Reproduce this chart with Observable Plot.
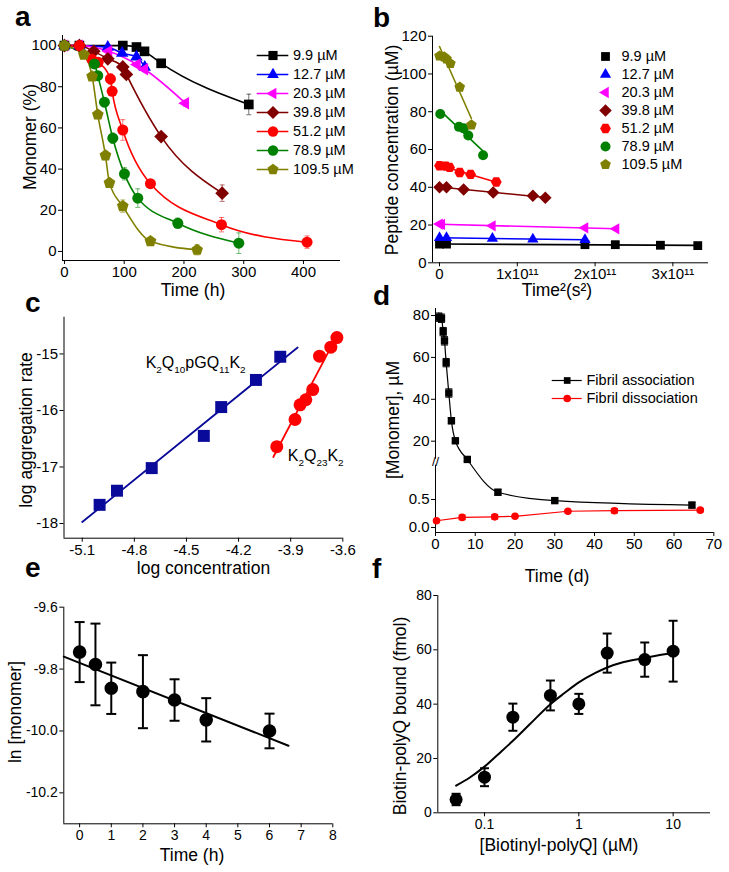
<!DOCTYPE html>
<html><head><meta charset="utf-8">
<script src="https://cdn.jsdelivr.net/npm/d3@7"></script>
<script src="https://cdn.jsdelivr.net/npm/@observablehq/plot@0.6"></script>
<style>
body{margin:0;background:#fff;}
#fig{position:relative;width:729px;height:872px;background:#fff;}
</style></head><body><div id="fig"></div>
<script>
// ================= DATA =================
const concLabels = ["9.9 µM","12.7 µM","20.3 µM","39.8 µM","51.2 µM","78.9 µM","109.5 µM"];
const concColors = ["#000000","#0000ff","#ff00ff","#800000","#ff0000","#008000","#808000"];

// panel a: time (h), monomer (%), error
const aTime99 = [0, 25, 97.6, 120.5, 133.9, 161.8, 308.5];
const aMono99 = [100, 100, 100, 99.3, 97.2, 91.4, 71.4];
const aErr99  = [0, 0, 1, 0.8, 0.8, 0.8, 5];
const aTime127 = [0, 25, 72.5, 96.5, 120.5, 134.4];
const aMono127 = [100, 100, 99.2, 96.3, 94.5, 89.5];
const aErr127  = [0, 0, 0.8, 1, 1, 1];
const aTime203 = [0, 25, 74, 121.6, 134, 202.5];
const aMono203 = [100, 100, 97.3, 90.8, 88.5, 72];
const aErr203  = [0, 0, 1, 1, 1, 1.5];
const aTime398 = [0, 25, 49, 72.5, 97.6, 103.6, 161.8, 263.9];
const aMono398 = [100, 100, 97.2, 93.6, 89.6, 86, 55.8, 28.3];
const aErr398  = [0, 0, 1, 1.5, 1, 1, 1, 4];
const aTime512 = [0, 25, 45.6, 56.4, 76.9, 79.8, 97.6, 143.9, 262.8, 406];
const aMono512 = [100, 100, 93.4, 91.9, 83.8, 77.8, 59, 32.9, 13, 4.5];
const aErr512  = [0, 0, 1.5, 1.5, 2.5, 2, 5, 0, 3.5, 3];
const aTime789 = [0, 50.2, 55.7, 66.9, 80.9, 100.4, 122.7, 189.7, 291.8];
const aMono789 = [100, 91.1, 85.4, 72.5, 55, 37.7, 25.9, 13.7, 4];
const aErr789  = [0, 2, 2, 2, 2.5, 3, 4.5, 2.5, 5];
const aTime1095 = [0, 32.4, 46.3, 55.8, 68.6, 75.3, 97.6, 143.9, 222];
const aMono1095 = [100, 95.6, 85, 66.5, 46.6, 33.3, 22, 5, 0.8];
const aErr1095  = [0, 1, 1.5, 2, 2, 2, 3, 1.5, 2.5];
const aTimeTicks = [0, 100, 200, 300, 400];
const aMonoTicks = [0, 20, 40, 60, 80, 100];

// panel b: time^2 (s^2), peptide concentration (µM)
const bT99 = [0, 0.09e11, 1.87e11, 2.26e11, 2.84e11, 3.32e11];
const bC99 = [9.9, 9.9, 9.6, 9.6, 9.3, 9.1];
const bT127 = [0, 0.09e11, 0.68e11, 1.2e11, 1.87e11];
const bC127 = [13.2, 13.2, 12.9, 12.5, 12.2];
const bT203 = [0, 0.03e11, 0.68e11, 1.87e11, 2.27e11];
const bC203 = [20.5, 20.3, 19.6, 18.5, 18];
const bT398 = [0, 0.09e11, 0.31e11, 0.69e11, 1.2e11, 1.36e11];
const bC398 = [40, 40, 38.8, 37.2, 35.5, 34.4];
const bT512 = [0, 0.08e11, 0.13e11, 0.26e11, 0.4e11, 0.73e11];
const bC512 = [51.4, 51.2, 50.5, 47.8, 46.8, 42.8];
const bT789 = [0.01e11, 0.25e11, 0.31e11, 0.37e11, 0.56e11];
const bC789 = [78.8, 72, 71.2, 67.4, 57];
const bT1095 = [0, 0.06e11, 0.09e11, 0.14e11, 0.26e11, 0.41e11];
const bC1095 = [109.5, 109, 108, 105.5, 93, 73];
const bTimeTicks = [0, 1e11, 2e11, 3e11];
const bConcTicks = [0, 20, 40, 60, 80, 100, 120];

// panel c: log concentration, log aggregation rate
const cLogConcA = [-5.0, -4.9, -4.7, -4.4, -4.3, -4.1, -3.96];
const cLogRateA = [-17.67, -17.42, -17.02, -16.45, -15.94, -15.46, -15.05];
const cLogConcB = [-3.98, -3.875, -3.846, -3.813, -3.773, -3.734, -3.669, -3.634];
const cLogRateB = [-16.64, -16.16, -15.9, -15.81, -15.63, -15.04, -14.88, -14.71];
const cFitRangeA = [-5.1, -3.86];
const cFitRangeB = [-4.0, -3.66];
const cNames = ["K_2Q_10pGQ_11K_2", "K_2Q_23K_2"];
const cNameX = [-4.735, -3.917];
const cNameY = [-15.15, -16.8];
const cConcTicks = [-5.1, -4.8, -4.5, -4.2, -3.9, -3.6];
const cRateTicks = [-18, -17, -16, -15];

// panel d: time (d), monomer (µM)
const dTimeAssoc = [0.84, 1.5, 1.93, 2.26, 2.68, 3.35, 4.0, 5.0, 8.0, 15.7, 30.0, 64.5];
const dMonoAssoc = [79.2, 78.7, 72.3, 67.9, 57.5, 43, 29.8, 20.2, 11.3, 0.63, 0.48, 0.40];
const dErrAssoc  = [2, 2, 2, 2, 2, 2, 1.5, 1, 0.8, 0.05, 0.03, 0.05];
const dTimeDiss = [0.25, 6.7, 14.9, 20, 33.3, 45, 66.6];
const dMonoDiss = [0.12, 0.18, 0.19, 0.2, 0.29, 0.3, 0.31];
const dErrDiss  = [0, 0.04, 0.04, 0.01, 0.01, 0.04, 0.03];
const dLegend = ["Fibril association", "Fibril dissociation"];
const dColors = ["#000000", "#ff0000"];
const dTimeTicks = [0, 10, 20, 30, 40, 50, 60, 70];
const dMonoTicks = [0, 0.5, 20, 40, 60, 80];
const dMonoTickText = ["0.0", "0.5", "20", "40", "60", "80"];

// panel e: time (h), ln[monomer]
const eTime = [0, 0.5, 1, 2, 3, 4, 6];
const eLnMono = [-9.745, -9.785, -9.862, -9.873, -9.9, -9.964, -10.0];
const eErr = [0.097, 0.132, 0.083, 0.118, 0.067, 0.07, 0.056];
const eFitRange = [-0.5, 6.6];
const eTimeTicks = [0, 1, 2, 3, 4, 5, 6, 7, 8];
const eLnTicks = [-10.2, -10.0, -9.8, -9.6];

// panel f: [Biotinyl-polyQ] (µM), bound (fmol)
const fConc = [0.05, 0.1, 0.2, 0.5, 1, 2, 5, 10];
const fBound = [4.9, 13.1, 35.2, 43.2, 40.1, 58.8, 56.4, 59.5];
const fErr = [2.1, 3.3, 5, 5.5, 3.7, 7.2, 6.3, 11.2];
const fCurveConc  = [0.05, 0.07, 0.1, 0.15, 0.2, 0.3, 0.5, 0.7, 1, 1.5, 2, 3, 5, 7, 10];
const fCurveBound = [10, 13, 17, 22.5, 26.5, 32.5, 40, 44, 48, 51.5, 53.5, 55.5, 57, 58, 58.8];
const fConcTicks = [0.1, 1, 10];
const fBoundTicks = [0, 20, 40, 60, 80];

// ================= HELPERS =================
const FONT = '"Liberation Sans", Arial, Helvetica, sans-serif';
const fig = document.getElementById("fig");

function poly(n, rot, k) {
  return {draw(c, s) {
    const r = Math.sqrt(s / Math.PI) * k;
    for (let i = 0; i < n; i++) {
      const a = rot + 2 * Math.PI * i / n;
      const x = r * Math.cos(a), y = r * Math.sin(a);
      if (i) c.lineTo(x, y); else c.moveTo(x, y);
    }
    c.closePath();
  }};
}
const sym = {
  square: {draw(c, s) { const r = Math.sqrt(s / Math.PI) * 0.88; c.rect(-r, -r, 2 * r, 2 * r); }},
  circle: {draw(c, s) { const r = Math.sqrt(s / Math.PI); c.moveTo(r, 0); c.arc(0, 0, r, 0, 2 * Math.PI); }},
  triUp: poly(3, -Math.PI / 2, 1.3),
  triLeft: poly(3, Math.PI, 1.3),
  diamond: poly(4, -Math.PI / 2, 1.25),
  pentagon: poly(5, -Math.PI / 2, 1.12),
  hexagon: poly(6, 0, 1.08),
  cap: {draw(c, s) { const r = Math.sqrt(s / Math.PI); c.moveTo(-r, 0); c.lineTo(r, 0); }}
};
const aSymbols = [sym.square, sym.triUp, sym.triLeft, sym.diamond, sym.circle, sym.circle, sym.pentagon];
const bSymbols = [sym.square, sym.triUp, sym.triLeft, sym.diamond, sym.hexagon, sym.circle, sym.pentagon];

function linFit(xs, ys) {
  const mx = d3.mean(xs), my = d3.mean(ys);
  let sxy = 0, sxx = 0;
  xs.forEach((x, i) => { sxy += (x - mx) * (ys[i] - my); sxx += (x - mx) ** 2; });
  const b = sxy / sxx;
  return x => my + b * (x - mx);
}

function panel({box, frame, fs, ...opts}) {
  const svg = Plot.plot({
    width: box.width, height: box.height,
    marginLeft: frame.x0 - box.left,
    marginRight: box.left + box.width - frame.x1,
    marginTop: frame.y0 - box.top,
    marginBottom: box.top + box.height - frame.y1,
    style: {fontFamily: FONT, fontSize: fs + "px", background: "transparent", overflow: "visible", color: "#000"},
    ...opts
  });
  svg.style.position = "absolute";
  svg.style.left = box.left + "px";
  svg.style.top = box.top + "px";
  svg.style.maxWidth = "none";
  fig.appendChild(svg);
  return svg;
}

function axisMarks({xTicks, yTicks, xFmt = String, yFmt = String, xMin, yMin, yLine = true}) {
  const m = [
    Plot.axisX({ticks: xTicks, tickFormat: xFmt, tickSize: 4, tickPadding: 2, label: null}),
    Plot.axisY({ticks: yTicks, tickFormat: yFmt, tickSize: 4, tickPadding: 2, label: null}),
    Plot.ruleY([yMin], {strokeWidth: 1})
  ];
  if (yLine) m.push(Plot.ruleX([xMin], {strokeWidth: 1}));
  return m;
}

function errMarks(data, {x, lo, hi, stroke = "#000", width = 1, cap = 4, opacity = 1}) {
  return [
    Plot.ruleX(data, {x, y1: lo, y2: hi, stroke, strokeWidth: width, strokeOpacity: opacity}),
    Plot.dot(data, {x, y: hi, symbol: sym.cap, r: cap, fill: "none", stroke, strokeWidth: width, strokeOpacity: opacity}),
    Plot.dot(data, {x, y: lo, symbol: sym.cap, r: cap, fill: "none", stroke, strokeWidth: width, strokeOpacity: opacity})
  ];
}

function legendPlot({left, top, width, height, labels, colors, symbols, y0, y1, lineX, markerX, textX, r, fs, lineWidth = 1.5}) {
  const marks = [];
  if (lineX) marks.push(Plot.ruleY(labels, {y: d => d, x1: lineX[0], x2: lineX[1], stroke: d => d, strokeWidth: lineWidth}));
  marks.push(Plot.dot(labels, {y: d => d, x: markerX, symbol: d => d, fill: d => d, r}));
  marks.push(Plot.text(labels, {y: d => d, x: textX, text: d => d, textAnchor: "start", fill: "#000"}));
  const svg = Plot.plot({
    width, height, margin: 0,
    x: {domain: [0, width], range: [0, width], axis: null},
    y: {type: "point", domain: labels, range: [y0, y1], padding: 0, axis: null},
    color: {domain: labels, range: colors},
    symbol: {domain: labels, range: symbols},
    style: {fontFamily: FONT, fontSize: fs + "px", background: "transparent", overflow: "visible", color: "#000"},
    marks
  });
  svg.style.position = "absolute";
  svg.style.left = left + "px";
  svg.style.top = top + "px";
  svg.style.maxWidth = "none";
  fig.appendChild(svg);
}

function subify(svg) {
  d3.select(svg).selectAll("text").each(function() {
    const raw = this.textContent;
    if (!raw.includes("_")) return;
    const el = d3.select(this);
    el.text(null);
    let shifted = false;
    raw.split(/(_\d+)/).filter(Boolean).forEach(p => {
      const sub = p.startsWith("_");
      const ts = el.append("tspan").text(sub ? p.slice(1) : p);
      if (sub !== shifted) { ts.attr("dy", sub ? "5px" : "-5px"); shifted = sub; }
      if (sub) ts.attr("font-size", "62%");
    });
  });
}

// ================= PANEL A =================
const aSeries = [
  [aTime99, aMono99, aErr99], [aTime127, aMono127, aErr127], [aTime203, aMono203, aErr203],
  [aTime398, aMono398, aErr398], [aTime512, aMono512, aErr512], [aTime789, aMono789, aErr789],
  [aTime1095, aMono1095, aErr1095]
];
const aData = aSeries.flatMap(([t, m, e], i) => t.map((tt, j) => ({s: concLabels[i], t: tt, y: m[j], e: e[j]})));
const aXDom = [-3.3, 462], aYDom = [-4.4, 104.9];
panel({
  box: {left: 0, top: 0, width: 365, height: 285}, frame: {x0: 62, x1: 340, y0: 35, y1: 260}, fs: 15,
  x: {domain: aXDom}, y: {domain: aYDom},
  color: {domain: concLabels, range: concColors}, symbol: {domain: concLabels, range: aSymbols},
  marks: [
    ...axisMarks({xTicks: aTimeTicks, yTicks: aMonoTicks, xMin: aXDom[0], yMin: aYDom[0]}),
    ...errMarks(aData.filter(d => d.e > 0), {x: "t", lo: d => d.y - d.e, hi: d => d.y + d.e, stroke: "s", width: 1, cap: 2.5, opacity: 0.55}),
    Plot.line(aData, {x: "t", y: "y", z: "s", stroke: "s", strokeWidth: 1.6, curve: "monotone-x"}),
    Plot.dot(aData, {x: "t", y: "y", symbol: "s", fill: "s", r: 5.5})
  ]
});
legendPlot({left: 250, top: 40, width: 115, height: 145, labels: concLabels, colors: concColors, symbols: aSymbols,
  y0: 15, y1: 129, lineX: [6.7, 38.3], markerX: 22.5, textX: 42.5, r: 5.2, fs: 14.5});

// ================= PANEL B =================
const bSeries = [[bT99, bC99], [bT127, bC127], [bT203, bC203], [bT398, bC398], [bT512, bC512], [bT789, bC789], [bT1095, bC1095]];
const bData = bSeries.flatMap(([t, c], i) => t.map((tt, j) => ({s: concLabels[i], x: tt, y: c[j]})));
const bXDom = [-0.09e11, 3.458e11], bYDom = [0, 120];
panel({
  box: {left: 365, top: 0, width: 364, height: 285}, frame: {x0: 432, x1: 708, y0: 35.7, y1: 262.3}, fs: 15,
  x: {domain: bXDom}, y: {domain: bYDom},
  color: {domain: concLabels, range: concColors}, symbol: {domain: concLabels, range: bSymbols},
  marks: [
    ...axisMarks({xTicks: bTimeTicks, yTicks: bConcTicks, xFmt: v => v === 0 ? "0" : `${v / 1e11}x10¹¹`, xMin: bXDom[0], yMin: bYDom[0]}),
    Plot.linearRegressionY(bData, {x: "x", y: "y", z: "s", stroke: "s", ci: 0, strokeWidth: 1.6}),
    Plot.dot(bData, {x: "x", y: "y", symbol: "s", fill: "s", r: 5})
  ]
});
legendPlot({left: 590, top: 40, width: 139, height: 140, labels: concLabels, colors: concColors, symbols: bSymbols,
  y0: 13.3, y1: 126.7, lineX: null, markerX: 15, textX: 31, r: 5, fs: 14.5});

// ================= PANEL C =================
const cDataA = cLogConcA.map((x, i) => ({x, y: cLogRateA[i]}));
const cDataB = cLogConcB.map((x, i) => ({x, y: cLogRateB[i]}));
const cFitA = linFit(cLogConcA, cLogRateA), cFitB = linFit(cLogConcB, cLogRateB);
const cLineA = cFitRangeA.map(x => ({x, y: cFitA(x)}));
const cLineB = cFitRangeB.map(x => ({x, y: cFitB(x)}));
const cXDom = [-5.205, -3.6], cYDom = [-18.26, -14.35];
const cSvg = panel({
  box: {left: 0, top: 285, width: 365, height: 300}, frame: {x0: 63.5, x1: 342.3, y0: 316.7, y1: 537.7}, fs: 15,
  x: {domain: cXDom}, y: {domain: cYDom},
  marks: [
    ...axisMarks({xTicks: cConcTicks, yTicks: cRateTicks, xMin: cXDom[0], yMin: cYDom[0]}),
    Plot.line(cLineA, {x: "x", y: "y", stroke: "#0a0a9a", strokeWidth: 1.8}),
    Plot.line(cLineB, {x: "x", y: "y", stroke: "#ff0000", strokeWidth: 1.8}),
    Plot.dot(cDataA, {x: "x", y: "y", symbol: sym.square, fill: "#0a0a9a", r: 6.8}),
    Plot.dot(cDataB, {x: "x", y: "y", symbol: sym.circle, fill: "#ff0000", r: 6.5}),
    Plot.text(cNames, {x: (d, i) => cNameX[i], y: (d, i) => cNameY[i], text: d => d, textAnchor: "start", fontSize: 16, fill: "#000"})
  ]
});
subify(cSvg);

// ================= PANEL D =================
const dLowMax = 1.166, dHighMin = 10.45, dKLow = 56, dKHigh = 2.095;
function dU(v) {
  if (v <= dLowMax) return v * dKLow;
  if (v >= dHighMin) return dLowMax * dKLow + 1 + (v - dHighMin) * dKHigh;
  return dLowMax * dKLow + (v - dLowMax) / (dHighMin - dLowMax);
}
const dAssoc = dTimeAssoc.map((t, i) => ({t, y: dMonoAssoc[i], e: dErrAssoc[i]}));
const dDiss = dTimeDiss.map((t, i) => ({t, y: dMonoDiss[i], e: dErrDiss[i]}));
const dXDom = [0, 70], dYDom = [-5, 219];
const dBreakU = dU(dLowMax);
panel({
  box: {left: 365, top: 285, width: 364, height: 300}, frame: {x0: 435, x1: 713.3, y0: 308, y1: 532}, fs: 15,
  x: {domain: dXDom}, y: {domain: dYDom},
  marks: [
    ...axisMarks({xTicks: dTimeTicks, yTicks: dMonoTicks.map(dU),
      yFmt: v => dMonoTickText[dMonoTicks.findIndex(t => Math.abs(dU(t) - v) < 1e-6)],
      xMin: dXDom[0], yMin: dYDom[0], yLine: false}),
    Plot.ruleX([dXDom[0]], {y1: dYDom[0], y2: dBreakU - 3}),
    Plot.ruleX([dXDom[0]], {y1: dBreakU + 3, y2: dYDom[1]}),
    Plot.text(["//"], {x: dXDom[0], y: dBreakU, text: d => d, fontSize: 13, fill: "#000"}),
    ...errMarks(dAssoc, {x: "t", lo: d => dU(d.y - d.e), hi: d => dU(d.y + d.e), stroke: "#000", width: 1, cap: 3.5}),
    ...errMarks(dDiss.filter(d => d.e > 0), {x: "t", lo: d => dU(d.y - d.e), hi: d => dU(d.y + d.e), stroke: "#ff0000", width: 1, cap: 3.5}),
    Plot.line(dAssoc, {x: "t", y: d => dU(d.y), stroke: "#000", strokeWidth: 1.2, curve: "monotone-x"}),
    Plot.line(dDiss, {x: "t", y: d => dU(d.y), stroke: "#ff0000", strokeWidth: 1.2}),
    Plot.dot(dAssoc, {x: "t", y: d => dU(d.y), symbol: sym.square, fill: "#000", r: 4.2}),
    Plot.dot(dDiss, {x: "t", y: d => dU(d.y), symbol: sym.circle, fill: "#ff0000", r: 3.8})
  ]
});
legendPlot({left: 545, top: 370, width: 184, height: 40, labels: dLegend, colors: dColors, symbols: [sym.square, sym.circle],
  y0: 10, y1: 28.3, lineX: [6.7, 36.7], markerX: 21.7, textX: 41, r: 3.8, fs: 14.5, lineWidth: 1.2});

// ================= PANEL E =================
const eData = eTime.map((t, i) => ({t, y: eLnMono[i], e: eErr[i]}));
const eFit = linFit(eTime, eLnMono);
const eLine = eFitRange.map(t => ({t, y: eFit(t)}));
const eXDom = [-0.5, 8], eYDom = [-10.3, -9.6];
panel({
  box: {left: 0, top: 585, width: 365, height: 287}, frame: {x0: 63.3, x1: 332.3, y0: 606.7, y1: 823.3}, fs: 14,
  x: {domain: eXDom}, y: {domain: eYDom},
  marks: [
    ...axisMarks({xTicks: eTimeTicks, yTicks: eLnTicks, yFmt: v => v.toFixed(1), xMin: eXDom[0], yMin: eYDom[0]}),
    Plot.line(eLine, {x: "t", y: "y", stroke: "#000", strokeWidth: 2}),
    ...errMarks(eData, {x: "t", lo: d => d.y - d.e, hi: d => d.y + d.e, stroke: "#000", width: 2, cap: 5}),
    Plot.dot(eData, {x: "t", y: "y", symbol: sym.circle, fill: "#000", r: 6.8})
  ]
});

// ================= PANEL F =================
const fData = fConc.map((c, i) => ({c, y: fBound[i], e: fErr[i]}));
const fCurve = fCurveConc.map((c, i) => ({c, y: fCurveBound[i]}));
const fXDom = [0.032, 24.9], fYDom = [0, 80];
panel({
  box: {left: 365, top: 585, width: 364, height: 287}, frame: {x0: 437.3, x1: 710, y0: 595, y1: 812.3}, fs: 14,
  x: {type: "log", domain: fXDom}, y: {domain: fYDom},
  marks: [
    ...axisMarks({xTicks: fConcTicks, yTicks: fBoundTicks, xMin: fXDom[0], yMin: fYDom[0]}),
    Plot.line(fCurve, {x: "c", y: "y", stroke: "#000", strokeWidth: 2, curve: "monotone-x"}),
    ...errMarks(fData, {x: "c", lo: d => d.y - d.e, hi: d => d.y + d.e, stroke: "#000", width: 2, cap: 4.5}),
    Plot.dot(fData, {x: "c", y: "y", symbol: sym.circle, fill: "#000", r: 6.5})
  ]
});

// ================= TITLES & PANEL LETTERS =================
const axisTitles = [
  ["Monomer (%)", 30, 137, -90],
  ["Time (h)", 193, 290, 0],
  ["Peptide concentration (µM)", 392, 150, -90],
  ["Time²(s²)", 557, 290, 0],
  ["log aggregation rate", 26, 430, -90],
  ["log concentration", 203.5, 568, 0],
  ["[Monomer], µM", 393, 420, -90],
  ["Time (d)", 557, 576, 0],
  ["ln [monomer]", 15, 712, -90],
  ["Time (h)", 192, 855, 0],
  ["Biotin-polyQ bound (fmol)", 400, 716, -90],
  ["[Biotinyl-polyQ] (µM)", 559, 845, 0]
];
const panelLetters = [["a", 15, 26], ["b", 373, 27], ["c", 25, 312], ["d", 373, 305], ["e", 25, 577], ["f", 372, 578]];
const over = d3.select(fig).append("svg")
  .attr("width", 729).attr("height", 872)
  .style("position", "absolute").style("left", "0px").style("top", "0px")
  .style("pointer-events", "none").attr("font-family", FONT);
over.selectAll("text.title").data(axisTitles).join("text")
  .attr("class", "title")
  .attr("transform", d => `translate(${d[1]},${d[2]}) rotate(${d[3]})`)
  .attr("text-anchor", "middle").attr("dy", "0.35em")
  .attr("font-size", 17.5).attr("fill", "#000")
  .text(d => d[0]);
over.selectAll("text.letter").data(panelLetters).join("text")
  .attr("class", "letter")
  .attr("x", d => d[1]).attr("y", d => d[2])
  .attr("font-size", 28).attr("font-weight", "bold").attr("fill", "#000")
  .text(d => d[0]);
</script></body></html>
